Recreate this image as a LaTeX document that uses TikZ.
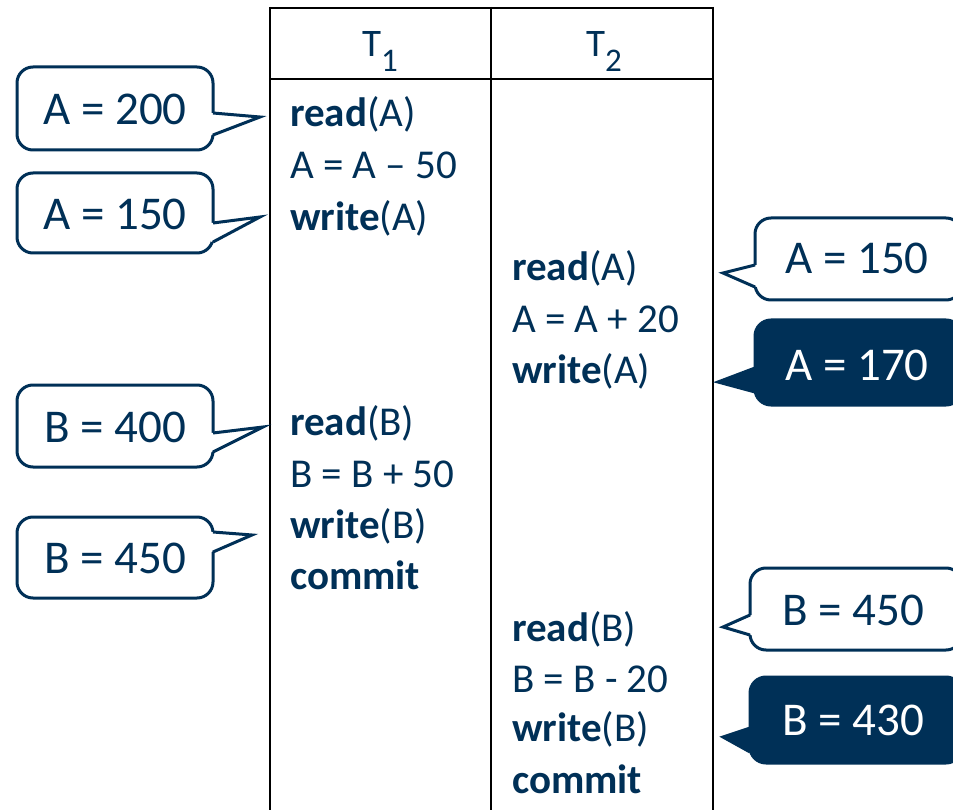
\documentclass[tikz,border=0pt]{standalone}
\usepackage{fontspec}
\setmainfont{Carlito}
\definecolor{navy}{RGB}{0,48,87}
\tikzset{
  tbl/.style={line width=2.6pt, black},
  callline/.style={line width=3pt, draw=navy},
  txt/.style={font=\fontsize{41}{49}\selectfont, text=navy, inner sep=0pt, anchor=base west},
  hdr/.style={font=\fontsize{39}{47}\selectfont, text=navy, inner sep=0pt, anchor=base},
  ctxt/.style={font=\fontsize{47}{56}\selectfont, inner sep=0pt, anchor=base},
}
% left-side callout, pointer on its right edge
\newcommand{\lcall}[9]{%
  \filldraw[callline, fill=#9, rounded corners=16pt] (#1,#2) rectangle (#3,#4);
  \fill[#9] (#3-2,#5) -- (#7,#8) -- (#3-2,#6) -- cycle;
  \draw[callline] (#3,#5) -- (#7,#8) -- (#3,#6);
}
% right-side callout, pointer on its left edge
\newcommand{\rcall}[9]{%
  \filldraw[callline, fill=#9, rounded corners=16pt] (#1,#2) rectangle (#3,#4);
  \fill[#9] (#1+2,#5) -- (#7,#8) -- (#1+2,#6) -- cycle;
  \draw[callline] (#1,#5) -- (#7,#8) -- (#1,#6);
}
\begin{document}
\begin{tikzpicture}[x=1pt,y=-1pt]
\clip (0,0) rectangle (953,810);
\fill[white] (0,0) rectangle (953,810);
% table
\draw[tbl] (270,8) -- (713,8);
\draw[tbl] (270,79) -- (713,79);
\draw[tbl] (270,7) -- (270,815);
\draw[tbl] (491,7) -- (491,815);
\draw[tbl] (713,7) -- (713,815);
\node[hdr] (h1) at (380,57) {T\raisebox{-15pt}{\fontsize{33}{33}\selectfont 1}};
\node[hdr] (h2) at (604,57) {T\raisebox{-15pt}{\fontsize{33}{33}\selectfont 2}};
% column 1
\node[txt] (a1) at (290,127) {\textbf{read}(A)};
\node[txt] (a2) at (290,179) {A = A – 50};
\node[txt] (a3) at (290,231) {\textbf{write}(A)};
\node[txt] (a4) at (290,435) {\textbf{read}(B)};
\node[txt] (a5) at (290,487) {B = B + 50};
\node[txt] (a6) at (290,538) {\textbf{write}(B)};
\node[txt] (a7) at (290,589) {\textbf{commit}};
% column 2
\node[txt] (b1) at (512,281) {\textbf{read}(A)};
\node[txt] (b2) at (512,332) {A = A + 20};
\node[txt] (b3) at (512,383) {\textbf{write}(A)};
\node[txt] (b4) at (512,641) {\textbf{read}(B)};
\node[txt] (b5) at (512,692) {B = B - 20};
\node[txt] (b6) at (512,741) {\textbf{write}(B)};
\node[txt] (b7) at (512,793) {\textbf{commit}};
% left callouts
\lcall{17}{67}{213}{150}{113}{135}{260}{117}{white}
\node[ctxt, text=navy] (c1) at (115,125) {A = 200};
\lcall{17}{173}{213}{253}{223}{242}{260}{217}{white}
\node[ctxt, text=navy] (c2) at (115,230) {A = 150};
\lcall{17}{385}{213}{467}{433}{452}{263}{427}{white}
\node[ctxt, text=navy] (c3) at (115,442) {B = 400};
\lcall{17}{517}{213}{598}{532}{552}{252}{535}{white}
\node[ctxt, text=navy] (c4) at (115,573) {B = 450};
% right callouts
\rcall{755}{218}{962}{300}{265}{287}{723}{273}{white}
\node[ctxt, text=navy] (d1) at (857,274) {A = 150};
\rcall{755}{320}{962}{405}{368}{392}{718}{382}{navy}
\node[ctxt, text=white] (d2) at (857,380) {A = 170};
\rcall{750}{568}{962}{650}{615}{635}{723}{627}{white}
\node[ctxt, text=navy] (d3) at (853,625) {B = 450};
\rcall{750}{677}{962}{763}{728}{752}{723}{737}{navy}
\node[ctxt, text=white] (d4) at (853,735) {B = 430};
\end{tikzpicture}
\end{document}
